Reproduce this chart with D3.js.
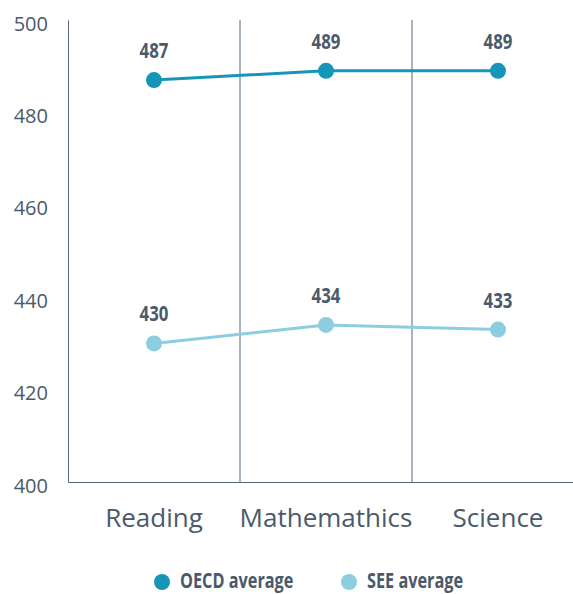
<!DOCTYPE html>
<html>
<head>
<meta charset="utf-8">
<script src="https://cdn.jsdelivr.net/npm/d3@7"></script>
<style>
  body { margin: 0; background: #fff; }
  .narrow { font-family: "Open Sans", sans-serif; font-weight: bold; }
</style>
</head>
<body>
<div id="chart"></div>
<script>
// Data
const subjects = ["Reading", "Mathemathics", "Science"];
const oecdAverage = [487, 489, 489];
const seeAverage = [430, 434, 433];
const yTicks = [400, 420, 440, 460, 480, 500];
const seriesNames = ["OECD average", "SEE average"];

const series = [
  { name: seriesNames[0], values: oecdAverage, color: "#1596b9" },
  { name: seriesNames[1], values: seeAverage, color: "#8ccde0" },
];

// Dimensions
const dimensions = { width: 573, height: 594, left: 68, right: 584, top: 20, bottom: 482 };
const textColor = "#4a5a6b";
const axisColor = "#56667a";
const squeeze = 0.8; // condensed look for bold labels

const svg = d3.select("#chart").append("svg")
  .attr("width", dimensions.width)
  .attr("height", dimensions.height);

// Scales
const xScale = d3.scaleBand().domain(subjects).range([dimensions.left, dimensions.right]);
const yScale = d3.scaleLinear().domain([400, 500]).range([dimensions.bottom, dimensions.top]);
const cx = (s) => xScale(s) + xScale.bandwidth() / 2;

// Y axis
const yAxis = svg.append("g").attr("transform", `translate(${dimensions.left},0)`)
  .call(d3.axisLeft(yScale).tickValues(yTicks).tickSize(0).tickPadding(20));
yAxis.select(".domain").attr("stroke", axisColor).attr("stroke-width", 1);
yAxis.selectAll("text")
  .attr("fill", textColor)
  .attr("dy", "0.5em")
  .style("font-family", "'Open Sans', sans-serif")
  .style("font-size", "20px");

// X axis
const xAxis = svg.append("g").attr("transform", `translate(0,${dimensions.bottom})`)
  .call(d3.axisBottom(xScale).tickSize(0));
xAxis.select(".domain").attr("stroke", axisColor).attr("stroke-width", 1);
xAxis.selectAll("text")
  .attr("fill", textColor)
  .attr("y", 45)
  .attr("dy", null)
  .style("font-family", "'Open Sans', sans-serif")
  .style("font-size", "26px");

// Vertical separators between categories
svg.append("g").selectAll("line")
  .data(subjects.slice(1))
  .join("line")
  .attr("x1", (d) => xScale(d)).attr("x2", (d) => xScale(d))
  .attr("y1", dimensions.top).attr("y2", dimensions.bottom)
  .attr("stroke", axisColor).attr("stroke-width", 1);

// Lines and points
const line = d3.line()
  .x((d, i) => cx(subjects[i]))
  .y((d) => yScale(d));

const groups = svg.append("g").selectAll("g").data(series).join("g");

groups.append("path")
  .attr("d", (d) => line(d.values))
  .attr("fill", "none")
  .attr("stroke", (d) => d.color)
  .attr("stroke-width", 3);

groups.selectAll("circle")
  .data((d) => d.values.map((v, i) => ({ v, i, color: d.color })))
  .join("circle")
  .attr("cx", (d) => cx(subjects[d.i]))
  .attr("cy", (d) => yScale(d.v))
  .attr("r", 8)
  .attr("fill", (d) => d.color);

groups.selectAll("text")
  .data((d) => d.values.map((v, i) => ({ v, i })))
  .join("text")
  .attr("class", "narrow")
  .attr("transform", (d) => `translate(${cx(subjects[d.i])},${yScale(d.v) - 22}) scale(${squeeze},1)`)
  .attr("text-anchor", "middle")
  .attr("fill", textColor)
  .style("font-size", "21px")
  .text((d) => d.v);

// Legend
const legendX = [162, 349];
const legend = svg.append("g").selectAll("g").data(series).join("g")
  .attr("transform", (d, i) => `translate(${legendX[i]},582)`);
legend.append("circle").attr("r", 8).attr("fill", (d) => d.color);
legend.append("text")
  .attr("class", "narrow")
  .attr("transform", "translate(18,6) scale(0.74,1)")
  .attr("fill", textColor)
  .style("font-size", "22px")
  .text((d) => d.name);
</script>
</body>
</html>
